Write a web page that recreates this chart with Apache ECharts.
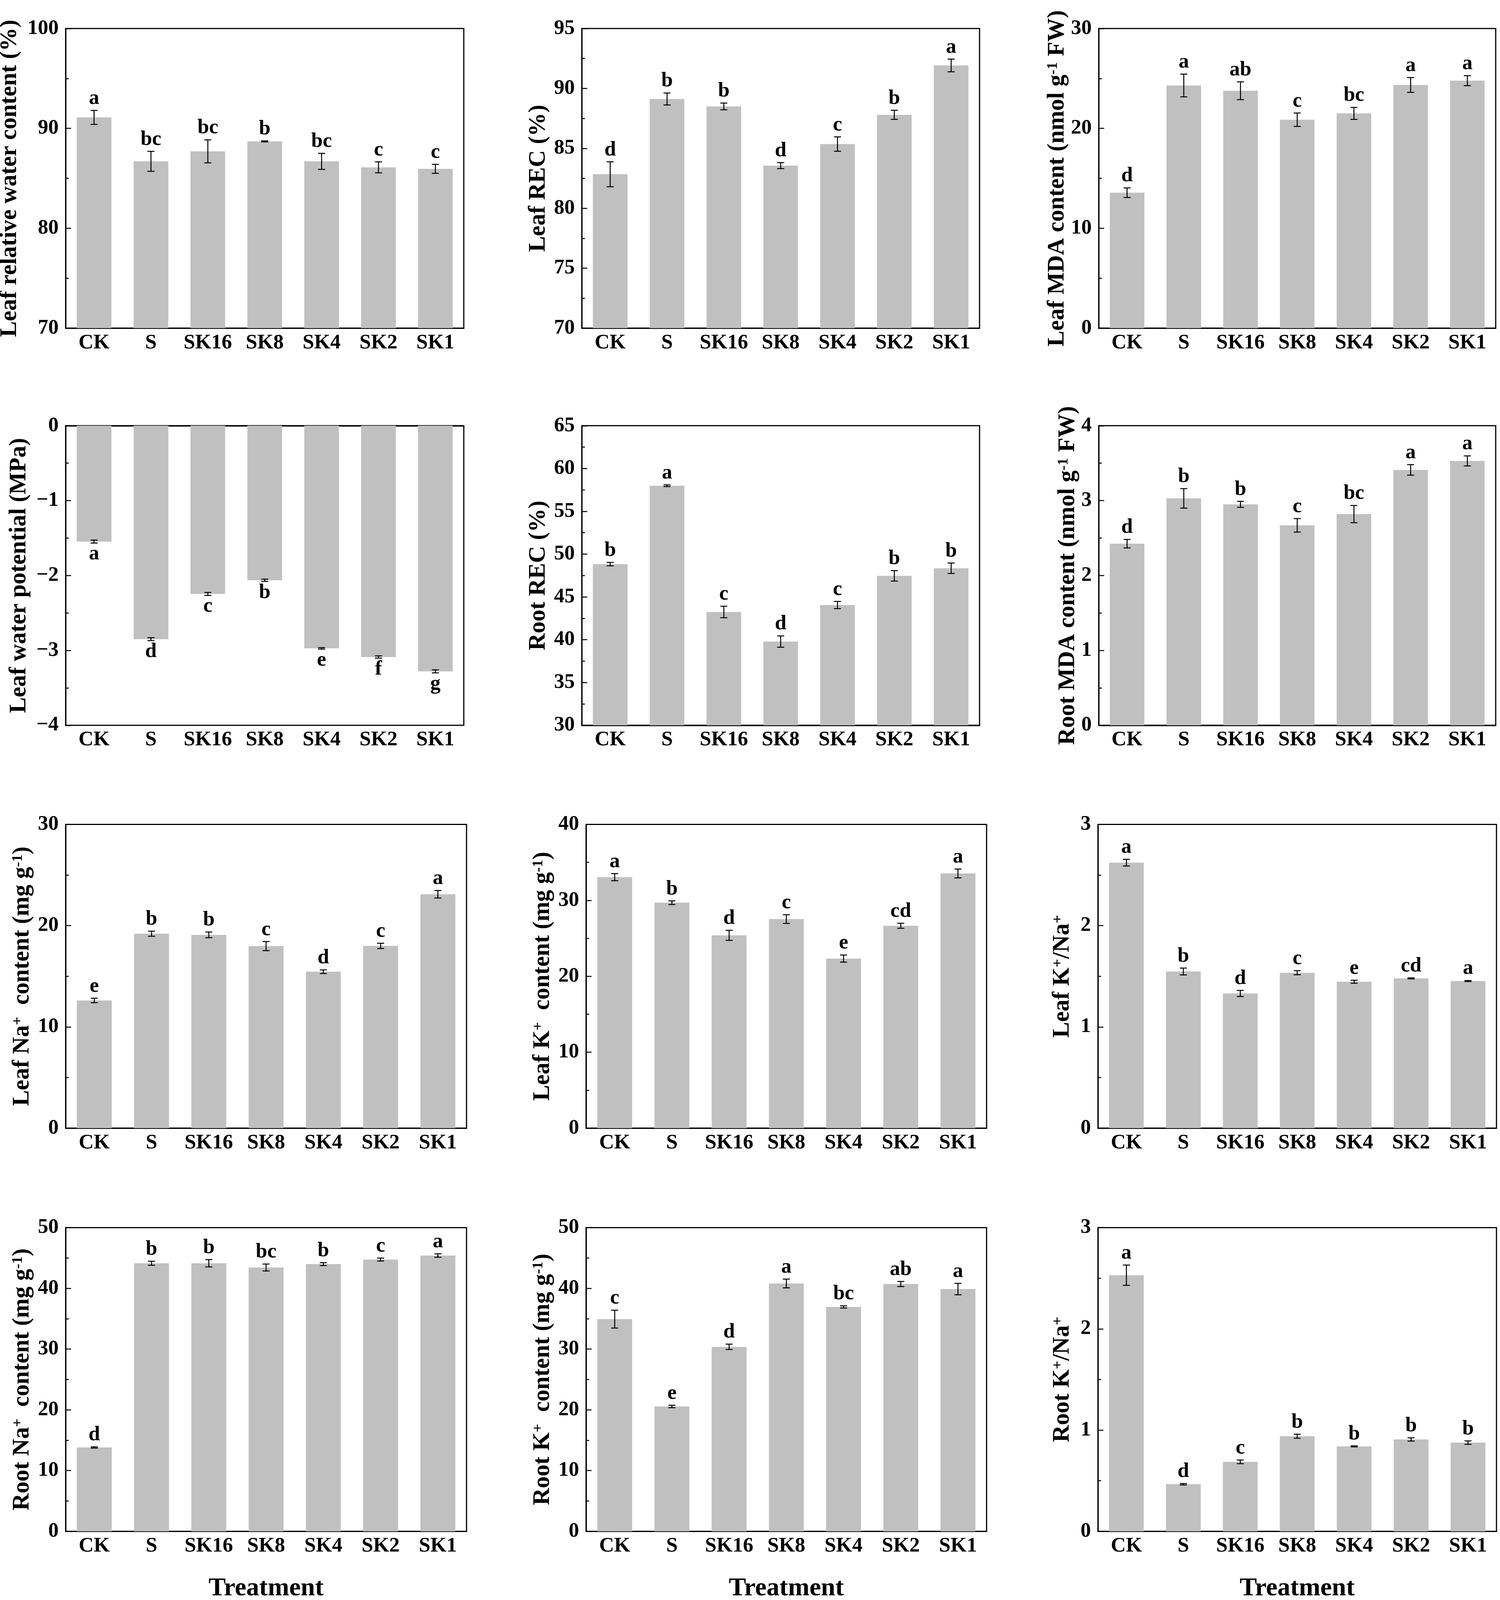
<!DOCTYPE html>
<html>
<head>
<meta charset="utf-8">
<script src="https://cdn.jsdelivr.net/npm/echarts@6/dist/echarts.min.js"></script>
<style>
  html, body { margin: 0; padding: 0; background: #fff; overflow: hidden; }
  #chart { width: 100vw; height: 100vh; }
</style>
</head>
<body>
<div id="chart"></div>
<script>
const categories = ['CK', 'S', 'SK16', 'SK8', 'SK4', 'SK2', 'SK1'];

// 叶片相对含水量
const leafRWC = [91.1, 86.7, 87.7, 88.7, 86.7, 86.1, 85.95];
const leafRWCErr = [0.7, 1.0, 1.15, 0.05, 0.8, 0.55, 0.45];
const leafRWCSig = ['a', 'bc', 'bc', 'b', 'bc', 'c', 'c'];

const leafREC = [82.84, 89.12, 88.5, 83.56, 85.36, 87.8, 91.92];
const leafRECErr = [1.04, 0.5, 0.28, 0.25, 0.6, 0.38, 0.53];
const leafRECSig = ['d', 'b', 'b', 'd', 'c', 'b', 'a'];

const leafMDA = [13.56, 24.3, 23.77, 20.87, 21.5, 24.35, 24.78];
const leafMDAErr = [0.48, 1.14, 0.89, 0.67, 0.6, 0.74, 0.5];
const leafMDASig = ['d', 'a', 'ab', 'c', 'bc', 'a', 'a'];

const leafWP = [-1.547, -2.85, -2.246, -2.064, -2.973, -3.088, -3.28];
const leafWPErr = [0.02, 0.02, 0.02, 0.015, 0.01, 0.015, 0.02];
const leafWPSig = ['a', 'd', 'c', 'b', 'e', 'f', 'g'];

const rootREC = [48.83, 57.99, 43.24, 39.78, 44.05, 47.46, 48.35];
const rootRECErr = [0.2, 0.1, 0.67, 0.66, 0.42, 0.61, 0.61];
const rootRECSig = ['b', 'a', 'c', 'd', 'c', 'b', 'b'];

const rootMDA = [2.425, 3.03, 2.95, 2.67, 2.82, 3.41, 3.53];
const rootMDAErr = [0.057, 0.13, 0.04, 0.09, 0.115, 0.07, 0.067];
const rootMDASig = ['d', 'b', 'b', 'c', 'bc', 'a', 'a'];

const leafNa = [12.61, 19.2, 19.09, 17.98, 15.45, 18.0, 23.1];
const leafNaErr = [0.22, 0.25, 0.28, 0.45, 0.18, 0.26, 0.37];
const leafNaSig = ['e', 'b', 'b', 'c', 'd', 'c', 'a'];

const leafK = [33.05, 29.69, 25.39, 27.53, 22.33, 26.65, 33.54];
const leafKErr = [0.47, 0.24, 0.66, 0.57, 0.47, 0.33, 0.58];
const leafKSig = ['a', 'b', 'd', 'c', 'e', 'cd', 'a'];

const leafKNa = [2.622, 1.547, 1.33, 1.535, 1.446, 1.479, 1.453];
const leafKNaErr = [0.033, 0.034, 0.03, 0.02, 0.015, 0.005, 0.005];
const leafKNaSig = ['a', 'b', 'd', 'c', 'e', 'cd', 'a'];

const rootNa = [13.8, 44.13, 44.13, 43.43, 43.99, 44.74, 45.4];
const rootNaErr = [0.1, 0.33, 0.6, 0.57, 0.24, 0.24, 0.28];
const rootNaSig = ['d', 'b', 'b', 'bc', 'b', 'c', 'a'];

const rootK = [34.93, 20.55, 30.37, 40.8, 36.94, 40.71, 39.88];
const rootKErr = [1.47, 0.2, 0.44, 0.72, 0.18, 0.42, 0.94];
const rootKSig = ['c', 'e', 'd', 'a', 'bc', 'ab', 'a'];

const rootKNa = [2.53, 0.465, 0.686, 0.939, 0.839, 0.907, 0.876];
const rootKNaErr = [0.1, 0.007, 0.018, 0.02, 0.005, 0.016, 0.017];
const rootKNaSig = ['a', 'd', 'c', 'b', 'b', 'b', 'b'];

(function () {
  const dom = document.getElementById('chart');
  const myChart = echarts.init(dom);
  const FONT = '"Liberation Serif", "Times New Roman", serif';

  // 每个子图：数据、坐标轴范围、位置（按 3839x4262 设计）
  const panels = [
    { v: leafRWC, e: leafRWCErr, s: leafRWCSig, min: 70, max: 100, step: 10,
      name: '{t|Leaf relative water content (%)}', gap: 112, box: [168, 76, 1019, 798] },
    { v: leafREC, e: leafRECErr, s: leafRECSig, min: 70, max: 95, step: 5,
      name: '{t|Leaf REC (%)}', gap: 80, box: [1489, 76, 1018, 798] },
    { v: leafMDA, e: leafMDAErr, s: leafMDASig, min: 0, max: 30, step: 10,
      name: '{t|Leaf MDA content (nmol g}{s|-1}{t| FW)}', gap: 60, box: [2812, 76, 1016, 798] },
    { v: leafWP, e: leafWPErr, s: leafWPSig, min: -4, max: 0, step: 1,
      name: '{t|Leaf water potential (MPa)}', gap: 88, box: [168, 1134, 1019, 798] },
    { v: rootREC, e: rootRECErr, s: rootRECSig, min: 30, max: 65, step: 5,
      name: '{t|Root REC (%)}', gap: 80, box: [1489, 1134, 1018, 798] },
    { v: rootMDA, e: rootMDAErr, s: rootMDASig, min: 0, max: 4, step: 1,
      name: '{t|Root MDA content (nmol g}{s|-1}{t| FW)}', gap: 48, box: [2812, 1134, 1016, 798] },
    { v: leafNa, e: leafNaErr, s: leafNaSig, min: 0, max: 30, step: 10,
      name: '{t|Leaf Na}{s|+}{t|  content (mg g}{s|-1}{t|)}', gap: 80, box: [168, 2196, 1026, 809] },
    { v: leafK, e: leafKErr, s: leafKSig, min: 0, max: 40, step: 10,
      name: '{t|Leaf K}{s|+}{t|  content (mg g}{s|-1}{t|)}', gap: 80, box: [1500, 2196, 1025, 809] },
    { v: leafKNa, e: leafKNaErr, s: leafKNaSig, min: 0, max: 3, step: 1,
      name: '{t|Leaf K}{s|+}{t|/Na}{s|+}', gap: 60, box: [2810, 2196, 1020, 809] },
    { v: rootNa, e: rootNaErr, s: rootNaSig, min: 0, max: 50, step: 10,
      name: '{t|Root Na}{s|+}{t|  content (mg g}{s|-1}{t|)}', gap: 80, box: [168, 3270, 1026, 809], xname: true },
    { v: rootK, e: rootKErr, s: rootKSig, min: 0, max: 50, step: 10,
      name: '{t|Root K}{s|+}{t|  content (mg g}{s|-1}{t|)}', gap: 80, box: [1500, 3270, 1025, 809], xname: true },
    { v: rootKNa, e: rootKNaErr, s: rootKNaSig, min: 0, max: 3, step: 1,
      name: '{t|Root K}{s|+}{t|/Na}{s|+}', gap: 60, box: [2810, 3270, 1020, 809], xname: true },
  ];

  function build() {
    // 视口可能比设计尺寸小，按比例缩放
    const sx = dom.clientWidth / 3839;
    const sy = dom.clientHeight / 4262;
    const f = sx; // 字号跟随宽度

    const lineStyle = { color: '#000', width: 3 * f };
    const tickStyle = { color: '#000', width: 2.5 * f };
    const labelStyle = { color: '#000', fontSize: 53 * f, fontWeight: 'bold', fontFamily: FONT };
    const yTitle = 63 * sy; // 竖排标题长度随高度缩放

    const grid = [];
    const xAxis = [];
    const yAxis = [];
    const series = [];

    panels.forEach((p, i) => {
      grid.push({
        left: p.box[0] * sx, top: p.box[1] * sy, width: p.box[2] * sx, height: p.box[3] * sy,
        containLabel: false,
        outerBoundsMode: 'none', // v6 默认会为放下坐标轴名而压缩网格
        show: true, borderColor: '#000', borderWidth: 3 * f, backgroundColor: 'transparent',
      });
      // 主 x 轴：刻度在柱子中间
      xAxis.push({
        type: 'category', gridIndex: i, data: categories,
        axisLine: { lineStyle },
        axisTick: { alignWithLabel: true, inside: true, length: 14 * sy, lineStyle: tickStyle },
        axisLabel: Object.assign({ margin: 12 * sy, interval: 0 }, labelStyle),
        splitLine: { show: false },
        name: p.xname ? 'Treatment' : '',
        nameLocation: 'middle',
        nameGap: 118 * sy,
        nameTextStyle: { color: '#000', fontSize: 66 * f, fontWeight: 'bold', fontFamily: FONT },
      });
      // 辅助 x 轴：类目边界的短刻度
      xAxis.push({
        type: 'category', gridIndex: i, data: categories, position: 'bottom',
        axisLine: { show: false },
        axisTick: { inside: true, length: 8 * sy, interval: 0, lineStyle: tickStyle },
        axisLabel: { show: false },
        splitLine: { show: false },
      });
      yAxis.push({
        type: 'value', gridIndex: i, min: p.min, max: p.max, interval: p.step,
        axisLine: { show: true, lineStyle },
        axisTick: { show: true, inside: true, length: 14 * sx, lineStyle: tickStyle },
        minorTick: { show: true, splitNumber: 2, length: 8 * sx, lineStyle: tickStyle },
        splitLine: { show: false },
        minorSplitLine: { show: false },
        axisLabel: Object.assign({
          margin: 18 * sx,
          formatter: (val) => String(val).replace('-', '\u2212'),
        }, labelStyle),
        name: p.name,
        nameLocation: 'middle',
        nameGap: p.gap * sx,
        nameTextStyle: {
          color: '#000', fontSize: yTitle, fontWeight: 'bold', fontFamily: FONT,
          rich: {
            t: { color: '#000', fontSize: yTitle, fontWeight: 'bold', fontFamily: FONT },
            s: { color: '#000', fontSize: 40 * sy, fontWeight: 'bold', fontFamily: FONT, verticalAlign: 'top' },
          },
        },
      });
      series.push({
        type: 'bar', xAxisIndex: 2 * i, yAxisIndex: i,
        data: p.v, barWidth: '61%', silent: true,
        itemStyle: { color: '#c0c0c0' },
      });
      // 误差线 + 显著性字母
      series.push({
        type: 'custom', xAxisIndex: 2 * i, yAxisIndex: i, z: 5, clip: false, silent: true,
        data: p.v.map((val, j) => [j, val, p.e[j]]),
        encode: { x: 0, y: 1 },
        renderItem(params, api) {
          const idx = api.value(0);
          const val = api.value(1);
          const err = api.value(2);
          const top = api.coord([idx, val + err]);
          const bot = api.coord([idx, val - err]);
          const x = top[0];
          const cap = 9 * f;
          const neg = val < 0;
          const stroke = { stroke: '#000', lineWidth: 2.5 * f };
          return {
            type: 'group',
            children: [
              { type: 'line', shape: { x1: x, y1: top[1], x2: x, y2: bot[1] }, style: stroke },
              { type: 'line', shape: { x1: x - cap, y1: top[1], x2: x + cap, y2: top[1] }, style: stroke },
              { type: 'line', shape: { x1: x - cap, y1: bot[1], x2: x + cap, y2: bot[1] }, style: stroke },
              {
                type: 'text',
                style: {
                  text: p.s[params.dataIndex],
                  x: x,
                  y: neg ? bot[1] + 2 * sy : top[1] - 4 * sy,
                  align: 'center',
                  verticalAlign: neg ? 'top' : 'bottom',
                  fontSize: 53 * f, fontWeight: 'bold', fontFamily: FONT, fill: '#000',
                },
              },
            ],
          };
        },
      });
    });

    myChart.setOption({ animation: false, grid, xAxis, yAxis, series }, true);
  }

  build();

  window.addEventListener('resize', () => {
    myChart.resize();
    build();
  });
})();
</script>
</body>
</html>
